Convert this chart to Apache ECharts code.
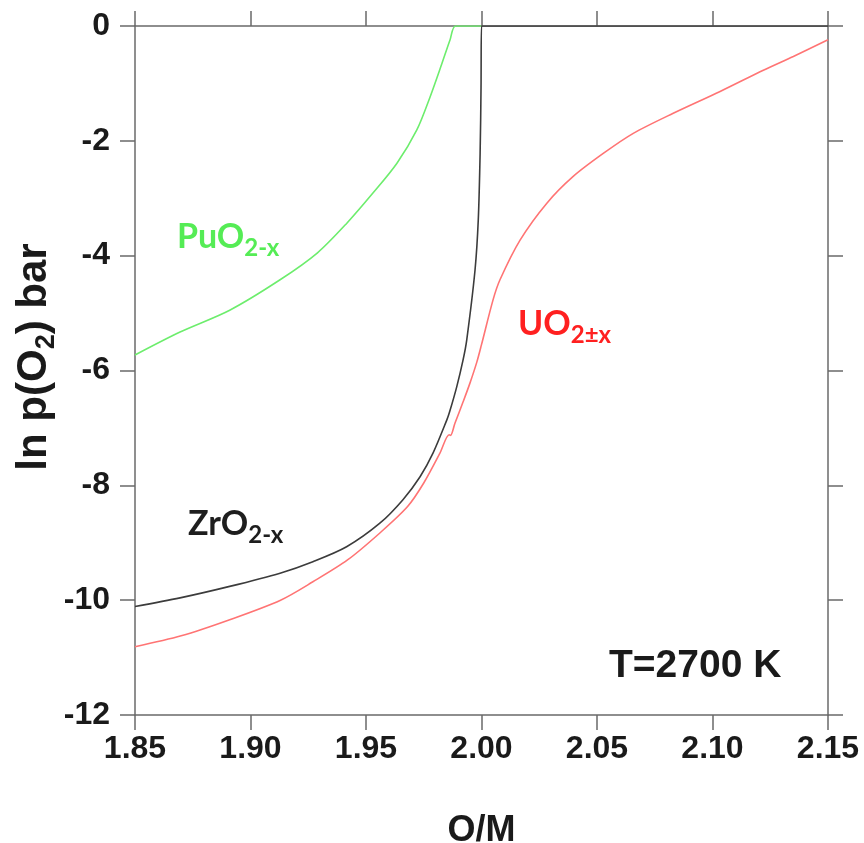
<!DOCTYPE html>
<html>
<head>
<meta charset="utf-8">
<script src="https://cdn.jsdelivr.net/npm/echarts@6/dist/echarts.min.js"></script>
<style>
html,body{margin:0;padding:0;background:#fff;}
#chart{width:864px;height:843px;}
</style>
</head>
<body>
<div id="chart"></div>
<script>
// ---- data ----
const xTicks = [1.85, 1.90, 1.95, 2.00, 2.05, 2.10, 2.15];
const yTicks = [0, -2, -4, -6, -8, -10, -12];

const puX = [1.85, 1.8695, 1.891, 1.9128, 1.929, 1.9418, 1.953, 1.9634, 1.972, 1.9777, 1.9829, 1.9864, 1.9888, 2.00];
const puY = [-5.73, -5.33, -4.95, -4.42, -3.95, -3.43, -2.91, -2.39, -1.81, -1.24, -0.65, -0.24, 0, 0];

const zrX = [1.85, 1.8695, 1.891, 1.9128, 1.927, 1.9416, 1.956, 1.966, 1.9734, 1.979, 1.985, 1.9862, 1.9893, 1.992, 1.9936, 1.9972, 1.9986, 1.9994, 1.9998, 2.00, 2.15];
const zrY = [-10.11, -9.96, -9.76, -9.53, -9.33, -9.07, -8.66, -8.25, -7.85, -7.44, -6.86, -6.72, -6.28, -5.82, -5.47, -4.25, -3.38, -2.22, -1.06, 0, 0];

const uX = [1.85, 1.87, 1.891, 1.913, 1.927, 1.942, 1.956, 1.968, 1.975, 1.982, 1.986, 1.9866, 1.9885, 1.992, 1.995, 1.998, 2.000, 2.005, 2.008, 2.0167, 2.0282, 2.0397, 2.0527, 2.0657, 2.083, 2.1033, 2.122, 2.135, 2.15];
const uY = [-10.81, -10.62, -10.34, -10.00, -9.68, -9.30, -8.83, -8.37, -7.96, -7.44, -7.12, -7.13, -6.92, -6.55, -6.22, -5.85, -5.55, -4.77, -4.42, -3.73, -3.09, -2.62, -2.22, -1.87, -1.52, -1.14, -0.77, -0.53, -0.24];

const zip = (xs, ys) => xs.map((x, i) => [x, ys[i]]);

const chart = echarts.init(document.getElementById('chart'), null, {renderer: 'canvas'});
const axisColor = '#6a6a6a';
const tickFont = {fontFamily: 'Liberation Sans, Arial, sans-serif', fontWeight: 'bold', fontSize: 32, color: '#1a1a1a'};

function xAx(pos, showLabel) {
  return {
    type: 'value', position: pos, min: xTicks[0], max: xTicks[xTicks.length - 1], interval: 0.05,
    axisLine: {show: true, onZero: false, lineStyle: {color: axisColor, width: 1.5}},
    axisTick: {show: true, inside: false, length: 15, lineStyle: {color: axisColor, width: 1.5}},
    axisLabel: Object.assign({show: showLabel, margin: 18, formatter: v => v.toFixed(2)}, tickFont),
    splitLine: {show: false}
  };
}
function yAx(pos, showLabel) {
  return {
    type: 'value', position: pos, min: yTicks[yTicks.length - 1], max: yTicks[0], interval: 2,
    axisLine: {show: true, onZero: false, lineStyle: {color: axisColor, width: 1.5}},
    axisTick: {show: true, inside: false, length: 15, lineStyle: {color: axisColor, width: 1.5}},
    axisLabel: Object.assign({show: showLabel, margin: 25}, tickFont),
    splitLine: {show: false}
  };
}

const xa = xAx('bottom', true);
xa.name = 'O/M';
xa.nameLocation = 'middle';
xa.nameGap = 98;
xa.nameTextStyle = {fontFamily: 'Liberation Sans, Arial, sans-serif', fontWeight: 'bold', fontSize: 36, color: '#1a1a1a'};

const lbl = (c) => ({fontFamily: 'Lato, Open Sans, sans-serif', fontWeight: 'bold', fontSize: 34, fill: c, lineHeight: 46});
const sub = (c) => ({fontFamily: 'Lato, Open Sans, sans-serif', fontWeight: 'bold', fontSize: 24, fill: c, lineHeight: 46, verticalAlign: 'bottom'});

const lineCommon = {showSymbol: false, symbol: 'none', smooth: 0.3};

chart.setOption({
  animation: false,
  backgroundColor: '#ffffff',
  grid: {left: 135, right: 36, top: 26, bottom: 128, containLabel: false, outerBoundsMode: 'none'},
  xAxis: [xa, xAx('top', false)],
  yAxis: [yAx('left', true), yAx('right', false)],
  series: [
    Object.assign({name: 'PuO2-x', type: 'line', data: zip(puX, puY),
     lineStyle: {color: '#6ded6d', width: 1.6}, z: 3}, lineCommon),
    Object.assign({name: 'UO2±x', type: 'line', data: zip(uX, uY),
     lineStyle: {color: '#ff7474', width: 1.6}, z: 3}, lineCommon),
    Object.assign({name: 'ZrO2-x', type: 'line', data: zip(zrX, zrY),
     lineStyle: {color: '#3c3c3c', width: 1.6}, z: 4}, lineCommon)
  ],
  graphic: [
    {type: 'text', left: 177, top: 220, style: {
      text: '{a|PuO}{b|2-x}', rich: {a: lbl('#55ec55'), b: sub('#55ec55')}}},
    {type: 'text', left: 518, top: 307, style: {
      text: '{a|UO}{b|2±x}', rich: {a: lbl('#ff2020'), b: sub('#ff2020')}}},
    {type: 'text', left: 188, top: 507, style: {
      text: '{a|ZrO}{b|2-x}', rich: {a: lbl('#1e1e1e'), b: sub('#1e1e1e')}}},
    {type: 'text', left: 609, top: 647, style: {
      text: 'T=2700 K', font: 'bold 39px "Liberation Sans", Arial, sans-serif', fill: '#1a1a1a'}},
    {type: 'text', x: 34, y: 357, rotation: Math.PI / 2, style: {
      text: '{a|ln p(O}{b|2}{a|) bar}', align: 'center', verticalAlign: 'middle',
      rich: {
        a: {fontFamily: 'Liberation Sans, Arial, sans-serif', fontWeight: 'bold', fontSize: 42, fill: '#1a1a1a', lineHeight: 52},
        b: {fontFamily: 'Liberation Sans, Arial, sans-serif', fontWeight: 'bold', fontSize: 27, fill: '#1a1a1a', lineHeight: 52, verticalAlign: 'bottom'}
      }}}
  ]
});
</script>
</body>
</html>
